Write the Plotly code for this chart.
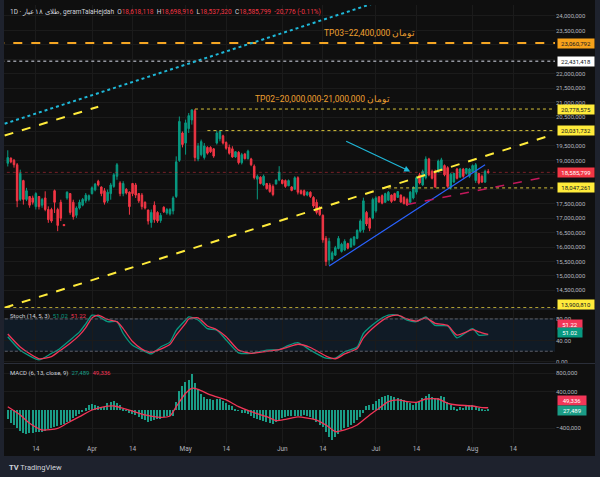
import numpy as np
import pandas as pd
import plotly.graph_objects as go
from plotly.subplots import make_subplots

first_day = "2024-03-05"

# daily candles, price in millions of toman (Mar 5 .. Aug 6)
open_m = [
    18.90, 19.08, 19.00, 18.85, 17.65, 18.30, 17.65, 17.75, 17.70, 17.40, 17.75, 17.45, 17.70, 17.30,
    17.30, 17.95, 17.30, 17.55, 16.78, 17.70, 17.85, 17.55, 17.10, 17.35, 17.45, 17.60, 17.65,
    17.85, 17.98, 18.28, 18.08, 17.95, 17.60, 17.85, 18.10, 18.45, 18.22, 17.85, 18.00, 17.90, 18.20,
    18.15, 17.85, 17.80, 17.55, 17.28, 16.85, 17.45, 17.20, 16.92, 17.38, 17.18, 17.15, 17.25, 17.75,
    19.00, 19.95,
    19.60, 20.10, 20.40, 20.72, 19.05, 19.20, 19.10, 19.45, 19.45, 19.40, 19.60, 19.75, 19.85, 19.62,
    19.45, 19.40, 19.12, 19.28, 18.92, 19.22, 19.06, 19.05, 18.80, 18.35, 18.42, 18.15, 18.20, 18.15,
    18.10, 18.18, 18.32,
    18.32, 18.30, 18.12, 18.08, 18.00, 18.40, 17.95, 17.95, 17.80, 17.90, 17.72, 17.55, 17.35, 17.10,
    16.30, 15.55, 15.58, 15.72, 15.95, 15.85, 15.90, 16.12, 16.00, 16.08, 16.30, 16.55, 16.60, 17.20,
    17.00, 17.00,
    17.25, 17.74, 17.78, 17.55, 17.62, 17.80, 17.85, 17.72, 17.80, 17.72, 17.65, 17.55, 17.70, 17.90,
    18.50, 18.15, 18.40, 19.05, 18.62, 18.60, 18.60, 18.65, 18.82, 18.75, 18.05, 18.25, 18.70, 18.42,
    18.70, 18.55, 18.45,
    18.60, 18.30, 18.55, 18.45, 18.25, 18.618118,
]
high_m = [
    19.35, 19.10, 19.05, 18.91, 18.68, 18.33, 18.05, 17.76, 17.78, 17.90, 17.76, 17.70, 17.93, 17.41,
    17.36, 17.99, 17.36, 17.64, 16.79, 17.93, 17.87, 17.64, 17.41, 17.64, 17.70, 17.87, 17.82,
    18.10, 18.22, 18.33, 18.10, 18.04, 17.99, 18.22, 18.56, 18.91, 18.28, 18.28, 18.04, 17.93, 18.22,
    18.22, 17.87, 17.87, 17.58, 17.30, 17.30, 17.58, 17.24, 17.18, 17.41, 17.35, 17.35, 17.76, 19.14,
    20.52, 20.00,
    20.41, 20.64, 20.76, 20.78, 19.60, 19.72, 19.60, 19.49, 19.49, 19.43, 20.03, 20.02, 19.89, 19.66,
    19.55, 19.49, 19.32, 19.32, 19.26, 19.26, 19.37, 19.09, 18.86, 18.51, 18.45, 18.51, 18.22, 18.22,
    18.17, 18.34, 18.80,
    18.34, 18.34, 18.34, 18.11, 18.45, 18.45, 17.99, 17.99, 17.93, 17.93, 17.76, 17.65, 17.42, 17.13,
    16.38, 16.32, 15.86, 16.04, 16.38, 16.15, 16.27, 16.15, 16.32, 16.38, 16.61, 16.96, 17.71, 17.25,
    17.02, 17.71,
    17.76, 17.76, 17.82, 17.88, 17.94, 17.82, 17.88, 17.94, 17.82, 17.76, 17.71, 17.94, 18.11, 18.45,
    18.57, 18.68, 19.14, 19.09, 18.68, 18.68, 19.03, 19.09, 18.86, 18.80, 18.57, 18.57, 18.74, 18.74,
    18.74, 18.74, 18.74,
    18.86, 18.91, 18.57, 18.51, 18.68, 18.698916,
]
low_m = [
    18.79, 18.90, 18.75, 17.38, 17.59, 17.47, 17.59, 17.36, 17.47, 17.30, 17.30, 17.36, 17.24, 16.84,
    16.84, 17.18, 16.55, 16.90, 16.73, 17.64, 17.12, 16.95, 17.01, 17.30, 17.41, 17.53, 17.58,
    17.82, 17.93, 18.10, 17.76, 17.47, 17.53, 17.64, 18.05, 18.33, 17.76, 17.76, 17.82, 17.12, 17.76,
    17.70, 17.53, 17.30, 17.30, 16.78, 16.67, 16.84, 16.84, 16.84, 17.18, 17.12, 17.09, 17.13, 17.70,
    18.95, 19.45,
    19.20, 19.95, 20.24, 18.97, 18.97, 19.14, 19.03, 19.20, 19.26, 19.09, 19.55, 19.66, 19.55, 19.37,
    19.20, 19.09, 19.09, 18.86, 18.86, 19.03, 19.03, 18.80, 18.34, 17.65, 18.17, 18.11, 17.99, 17.88,
    17.76, 18.17, 18.28,
    18.17, 18.05, 18.11, 17.93, 17.99, 17.82, 17.82, 17.76, 17.76, 17.70, 17.36, 17.13, 17.07, 16.15,
    15.35, 15.38, 15.52, 15.69, 15.92, 15.81, 15.86, 15.92, 15.98, 16.04, 16.27, 16.50, 16.50, 16.73,
    16.55, 16.96,
    17.19, 17.53, 17.48, 17.53, 17.59, 17.53, 17.59, 17.71, 17.53, 17.48, 17.42, 17.53, 17.65, 17.82,
    18.17, 18.11, 18.34, 18.45, 18.34, 18.05, 18.57, 18.63, 18.45, 18.05, 17.99, 18.22, 18.34, 18.40,
    18.40, 18.51, 18.40,
    18.57, 18.22, 18.17, 18.22, 18.22, 18.537320,
]
close_m = [
    19.10, 18.95, 18.85, 17.60, 18.55, 17.65, 17.95, 17.45, 17.55, 17.85, 17.40, 17.65, 17.30, 16.95,
    16.90, 17.55, 16.75, 17.00, 16.74, 17.90, 17.20, 17.05, 17.35, 17.55, 17.65, 17.80, 17.78,
    18.05, 18.18, 18.15, 17.85, 17.55, 17.90, 18.15, 18.50, 18.85, 17.85, 18.20, 17.87, 17.40, 17.85,
    17.80, 17.60, 17.40, 17.35, 16.90, 17.20, 16.95, 16.90, 17.10, 17.22, 17.30, 17.30, 17.70, 18.95,
    20.35, 19.55,
    20.30, 20.55, 20.75, 19.10, 19.50, 19.65, 19.50, 19.25, 19.30, 19.15, 19.95, 20.00, 19.60, 19.42,
    19.25, 19.12, 19.30, 18.92, 19.20, 19.06, 19.32, 18.85, 18.40, 18.45, 18.20, 18.45, 18.02, 17.92,
    17.82, 18.32, 18.60,
    18.20, 18.10, 18.30, 17.96, 18.40, 17.90, 17.85, 17.80, 17.90, 17.75, 17.42, 17.20, 17.12, 16.25,
    15.50, 16.20, 15.80, 15.98, 16.30, 16.10, 16.20, 15.96, 16.28, 16.35, 16.58, 16.90, 17.60, 16.80,
    16.65, 17.65,
    17.70, 17.56, 17.52, 17.85, 17.90, 17.58, 17.62, 17.92, 17.56, 17.50, 17.46, 17.90, 18.05, 18.40,
    18.22, 18.62, 19.05, 18.50, 18.38, 18.08, 18.98, 19.02, 18.50, 18.10, 18.52, 18.55, 18.38, 18.70,
    18.45, 18.72, 18.70,
    18.82, 18.85, 18.22, 18.25, 18.62, 18.585799,
]
last_ohlc = [18618118, 18698916, 18537320, 18585799]
last_change = "-20,776 (-0.11%)"

# stochastic (14, 5, 3)
stoch_dates = [
    "2024-03-05", "2024-03-09", "2024-03-15", "2024-03-19", "2024-03-21", "2024-03-25", "2024-03-28",
    "2024-03-30", "2024-04-01", "2024-04-03", "2024-04-06", "2024-04-09", "2024-04-11", "2024-04-14",
    "2024-04-17", "2024-04-20", "2024-04-23", "2024-04-26", "2024-04-28", "2024-05-01", "2024-05-02",
    "2024-05-05", "2024-05-08", "2024-05-11", "2024-05-14", "2024-05-18", "2024-05-22", "2024-05-27",
    "2024-05-31", "2024-06-03", "2024-06-06", "2024-06-10", "2024-06-15", "2024-06-18", "2024-06-21",
    "2024-06-25", "2024-06-27", "2024-07-01", "2024-07-05", "2024-07-08", "2024-07-11", "2024-07-14",
    "2024-07-17", "2024-07-20", "2024-07-24", "2024-07-27", "2024-08-01", "2024-08-03", "2024-08-06",
]
stoch_k = [47, 22, 4, 16, 22, 41, 56, 71, 87, 85, 75, 75, 53, 31, 22, 15, 28, 37, 59,
           78, 84, 78, 62, 59, 41, 17, 16, 22, 23, 31, 36, 22, 7, 7, 19, 28, 53,
           74, 87, 87, 78, 75, 84, 68, 67, 45, 62, 50, 51.02]
stoch_d = [52, 28, 6, 10, 18, 35, 50, 64, 82, 87, 79, 75, 62, 38, 24, 18, 24, 33, 50,
           72, 80, 82, 67, 60, 47, 22, 16, 20, 23, 28, 33, 27, 11, 6, 15, 25, 45,
           68, 84, 87, 80, 76, 82, 72, 68, 50, 60, 56, 51.22]
stoch_bands = [20, 80]

# MACD (6, 13, close, 9), thousands
macd_k = [
    -200, -280, -330, -400, -450, -500, -520, -510, -500, -470, -480, -470, -460, -420,
    -400, -380, -350, -330, -300, -270, -230, -180, -140, -90, -40, 40, 120,
    140, 110, 90, 60, 70, 150, 180, 200, 160, 120, 30, -20, -60, -80, -110, -150, -190, -220,
    -260, -250, -220, -200, -190, -150, -140, -130, -120, 180, 420, 520,
    620, 660, 780, 600, 450, 340, 290, 250, 230, 210, 230, 240, 190, 150, 100, 80, 30, -20,
    -60, -70, -90, -120, -170, -200, -210, -250, -270, -290, -300, -260, -230,
    -180, -150, -120, -130, -140, -130, -120, -110, -120, -150, -200, -260, -330, -380, -480,
    -600, -650, -600, -520, -440, -400, -370, -320, -280, -220, -150, -60, 80, 100, 140,
    200, 250, 280, 300, 320, 300, 280, 260, 250, 210, 180, 150, 120, 170, 200, 260, 300, 340,
    290, 270, 260, 300, 280, 180, 100, 60, 20, 60, 50, 90, 100,
    110, 80, 40, 30, -10, 27.489,
]
signal_dates = [
    "2024-03-05", "2024-03-09", "2024-03-12", "2024-03-16", "2024-03-21", "2024-03-24", "2024-03-28",
    "2024-04-01", "2024-04-04", "2024-04-08", "2024-04-11", "2024-04-14", "2024-04-18", "2024-04-23",
    "2024-04-26", "2024-04-28", "2024-05-01", "2024-05-03", "2024-05-05", "2024-05-09", "2024-05-14",
    "2024-05-18", "2024-05-22", "2024-05-27", "2024-05-30", "2024-06-02", "2024-06-06", "2024-06-12",
    "2024-06-15", "2024-06-18", "2024-06-21", "2024-06-25", "2024-06-29", "2024-07-02", "2024-07-05",
    "2024-07-08", "2024-07-11", "2024-07-14", "2024-07-17", "2024-07-21", "2024-07-24", "2024-07-27",
    "2024-08-01", "2024-08-04", "2024-08-06",
]
signal_k = [70, -110, -290, -437, -400, -290, -146, 0, 58, 87, 36, -22, -109, -160, -131, 72,
            365, 474, 452, 328, 219, 72, -37, -146, -233, -204, -150, -219, -328, -474, -437,
            -328, -109, 36, 182, 219, 182, 168, 240, 240, 146, 109, 87, 51, 49.336]

# drawn levels and trend lines
level_prices = [23060792, 22431418, 20778575, 20031732, 18047261, 13900810]
level_starts = ["2024-03-01", "2024-03-01", "2024-05-04", "2024-05-08", "2024-07-03", "2024-03-01"]
cyan_dates, cyan_prices = ["2024-03-04", "2024-06-30"], [20.27, 24.43]
yellow_dates, yellow_prices = ["2024-03-04", "2024-08-27"], [13.90, 19.90]
upper_dates, upper_prices = ["2024-03-04", "2024-04-03"], [19.86, 20.86]
blue_dates, blue_prices = ["2024-06-16", "2024-08-05"], [15.34, 18.85]
red_dates, red_prices = ["2024-07-11", "2024-08-25"], [17.47, 18.44]
arrow_dates, arrow_prices = ["2024-06-21", "2024-07-12"], [19.69, 18.62]
tp_texts = ["TP03=22,400,000 تومان", "TP02=20,000,000-21,000,000 تومان"]
tp_dates, tp_prices = ["2024-06-29", "2024-06-14"], [23.41, 21.10]

tick_dates = ["2024-03-14", "2024-04-01", "2024-04-14", "2024-05-01", "2024-05-14", "2024-06-01",
              "2024-06-14", "2024-07-01", "2024-07-14", "2024-08-01", "2024-08-14"]
tick_names = ["14", "Apr", "14", "May", "14", "Jun", "14", "Jul", "14", "Aug", "14"]
price_ticks = [14.5, 15.0, 15.5, 16.0, 16.5, 17.0, 17.5, 18.0, 18.5, 19.0, 19.5, 20.0, 20.5,
               21.0, 21.5, 22.0, 22.5, 23.0, 23.5, 24.0]
# ticks that TradingView hides behind the level boxes
hidden_ticks = [18.0, 18.5, 20.0, 22.5, 23.0]

UP, DOWN = "#089981", "#f23645"
BG, FRAME, GRID, TXT = "#0f0f0f", "#1e222d", "#1b1b1b", "#b2b5be"
FONT = "Roboto"
x_range = ["2024-03-03 19:00", "2024-08-27 10:00"]
far_left, far_right = "2024-02-01", "2024-09-30"

dates = pd.date_range(first_day, periods=len(close_m), freq="D")
M = 1e6

fig = make_subplots(rows=3, cols=1, shared_xaxes=True, vertical_spacing=0.01)

fig.add_trace(go.Candlestick(
    x=dates, open=np.array(open_m) * M, high=np.array(high_m) * M,
    low=np.array(low_m) * M, close=np.array(close_m) * M,
    increasing=dict(line=dict(color=UP, width=1), fillcolor=UP),
    decreasing=dict(line=dict(color=DOWN, width=1), fillcolor=DOWN),
    whiskerwidth=0, hoverinfo="skip"), row=1, col=1)

# last price line
fig.add_trace(go.Scatter(x=[far_left, far_right], y=[last_ohlc[3]] * 2, mode="lines",
                         line=dict(color="rgba(242,54,69,0.45)", width=1, dash="dot")), row=1, col=1)

level_styles = [
    dict(color="#f5a623", width=2, dash="dash"),
    dict(color="#9598a1", width=1.5, dash="dot"),
    dict(color="#d6c23a", width=1, dash="3px,3px"),
    dict(color="#d6c23a", width=1, dash="3px,3px"),
    dict(color="#d6c23a", width=1, dash="3px,3px"),
    dict(color="#d6c23a", width=1, dash="3px,3px"),
]
for p, start, st in zip(level_prices, level_starts, level_styles):
    fig.add_trace(go.Scatter(x=[start, far_right], y=[p, p], mode="lines", line=st), row=1, col=1)

trend = [
    (cyan_dates, cyan_prices, dict(color="#1fb8d8", width=2, dash="dot")),
    (yellow_dates, yellow_prices, dict(color="#ffeb3b", width=2, dash="dash")),
    (upper_dates, upper_prices, dict(color="#ffeb3b", width=2, dash="dash")),
    (blue_dates, blue_prices, dict(color="#2962ff", width=1.2)),
    (red_dates, red_prices, dict(color="#c2185b", width=1.5, dash="dash")),
]
for xs, ys, st in trend:
    fig.add_trace(go.Scatter(x=xs, y=np.array(ys) * M, mode="lines", line=st), row=1, col=1)

# stochastic pane
fig.add_shape(type="rect", xref="x2", yref="y2", x0=far_left, x1=far_right,
              y0=stoch_bands[0], y1=stoch_bands[1], fillcolor="#101b26", line_width=0, layer="below")
for b in stoch_bands:
    fig.add_shape(type="line", xref="x2", yref="y2", x0=far_left, x1=far_right, y0=b, y1=b,
                  line=dict(color="#5d606b", width=1, dash="3px,2px"))
fig.add_trace(go.Scatter(x=stoch_dates, y=stoch_k, mode="lines", line=dict(color="#089981", width=1.3,
                         shape="spline", smoothing=0.6)), row=2, col=1)
fig.add_trace(go.Scatter(x=stoch_dates, y=stoch_d, mode="lines", line=dict(color="#f23658", width=1.3,
                         shape="spline", smoothing=0.6)), row=2, col=1)

# MACD pane
fig.add_trace(go.Bar(x=dates, y=np.array(macd_k) * 1000, marker=dict(color="#1a9c86", line_width=0),
                     width=0.45 * 86400000), row=3, col=1)
fig.add_trace(go.Scatter(x=signal_dates, y=np.array(signal_k) * 1000, mode="lines",
                         line=dict(color="#f23658", width=1.3, shape="spline", smoothing=0.6)), row=3, col=1)

ann = []
# price scale boxes
box_colors = ["#f7a21b", "#ffffff", "#ffeb3b", "#ffeb3b", "#ffeb3b", "#ffeb3b"]
box_shift = [0, 0, 0, 0, 0, 3]
for p, c, s in zip(level_prices, box_colors, box_shift):
    ann.append(dict(xref="paper", yref="y", x=1, y=p, xanchor="left", xshift=2, yshift=s,
                    text=f"{p:,}", showarrow=False, bgcolor=c, width=34, borderpad=1,
                    font=dict(family=FONT, size=6, color="#131722")))
ann.append(dict(xref="paper", yref="y", x=1, y=last_ohlc[3], xanchor="left", xshift=2,
                text=f"{last_ohlc[3]:,}", showarrow=False, bgcolor=DOWN, width=34, borderpad=1,
                font=dict(family=FONT, size=6, color="#ffffff")))
for v, c, s in [(stoch_d[-1], "#f23658", 10), (stoch_k[-1], "#089981", 2)]:
    ann.append(dict(xref="paper", yref="y2", x=1, y=v, xanchor="left", xshift=2, yshift=s,
                    text=f"{v:.2f}", showarrow=False, bgcolor=c, width=22, borderpad=1,
                    font=dict(family=FONT, size=6, color="#ffffff")))
for v, c, s in [(signal_k[-1], "#f23658", 7), (macd_k[-1], "#1a9c86", -2)]:
    ann.append(dict(xref="paper", yref="y3", x=1, y=v * 1000, xanchor="left", xshift=2, yshift=s,
                    text=f"{v * 1000:,.0f}", showarrow=False, bgcolor=c, width=26, borderpad=1,
                    font=dict(family=FONT, size=6, color="#ffffff")))

# TP labels and arrow
for t, d, p in zip(tp_texts, tp_dates, tp_prices):
    ann.append(dict(xref="x", yref="y", x=d, y=p * M, text=t, showarrow=False,
                    font=dict(family=FONT, size=8.5, color="#f0a030")))
ann.append(dict(xref="x", yref="y", axref="x", ayref="y", x=arrow_dates[1], y=arrow_prices[1] * M,
                ax=arrow_dates[0], ay=arrow_prices[0] * M, text="", showarrow=True,
                arrowhead=2, arrowsize=1, arrowwidth=1.2, arrowcolor="#1fb8d8"))

red = "<span style='color:#f23645'>"
legend = ("1D · طلای ۱۸ عیار, geramTalaHejdah  "
          f"O{red}{last_ohlc[0]:,}</span>  H{red}{last_ohlc[1]:,}</span>  "
          f"L{red}{last_ohlc[2]:,}</span>  C{red}{last_ohlc[3]:,}</span>  {red}{last_change}</span>")
ann.append(dict(xref="paper", yref="paper", x=0.007, y=0.984, xanchor="left", yanchor="middle",
                text=legend, showarrow=False, font=dict(family=FONT, size=6.5, color="#d1d4dc")))
ann.append(dict(xref="paper", yref="paper", x=0.007, y=0.29, xanchor="left", yanchor="middle",
                text=f"Stoch (14, 5, 3)  <span style='color:#089981'>{stoch_k[-1]:.2f}</span>  "
                     f"<span style='color:#f23658'>{stoch_d[-1]:.2f}</span>",
                showarrow=False, font=dict(family=FONT, size=6, color="#d1d4dc")))
ann.append(dict(xref="paper", yref="paper", x=0.007, y=0.16, xanchor="left", yanchor="middle",
                text=f"MACD (6, 13, close, 9)  <span style='color:#1a9c86'>{macd_k[-1] * 1000:,.0f}</span>  "
                     f"<span style='color:#f23658'>{signal_k[-1] * 1000:,.0f}</span>",
                showarrow=False, font=dict(family=FONT, size=6, color="#d1d4dc")))
ann.append(dict(xref="paper", yref="paper", x=0.005, y=-0.057, xanchor="left", yanchor="middle",
                text="<b>TV</b> TradingView", showarrow=False,
                font=dict(family=FONT, size=7.5, color="#d1d4dc")))

# frame, separators
frame = [
    dict(type="rect", xref="paper", yref="paper", x0=-0.02, x1=1.1, y0=-0.1, y1=-0.0297,
         fillcolor=FRAME, line_width=0),
    dict(type="rect", xref="paper", yref="paper", x0=1.0726, x1=1.1, y0=-0.1, y1=1.02,
         fillcolor=FRAME, line_width=0),
    dict(type="rect", xref="paper", yref="paper", x0=-0.02, x1=0, y0=-0.1, y1=1.02,
         fillcolor=FRAME, line_width=0),
    dict(type="line", xref="paper", yref="paper", x0=0, x1=1.0726, y0=0.306, y1=0.306,
         line=dict(color="#2a2e39", width=1)),
    dict(type="line", xref="paper", yref="paper", x0=0, x1=1.0726, y0=0.1815, y1=0.1815,
         line=dict(color="#2a2e39", width=1)),
]
for s in frame:
    fig.add_shape(**s)

fig.update_layout(
    width=600, height=477, margin=dict(l=4, r=45, t=5, b=34),
    paper_bgcolor=BG, plot_bgcolor=BG, showlegend=False, annotations=list(fig.layout.annotations) + ann,
    font=dict(family=FONT, size=6, color=TXT), bargap=0, hovermode=False,
)
for i in (1, 2, 3):
    fig.update_xaxes(row=i, col=1, type="date", range=x_range, tickvals=tick_dates, ticktext=tick_names,
                     showgrid=True, gridcolor=GRID, zeroline=False, showline=False,
                     showticklabels=(i == 3), tickfont=dict(size=6.5, color=TXT),
                     rangeslider=dict(visible=False))
price_text = ["" if t in hidden_ticks else f"{t * M:,.0f}" for t in price_ticks]
fig.update_yaxes(row=1, col=1, side="right", domain=[0.3082, 1], range=[13.89e6, 24.38e6],
                 tickvals=np.array(price_ticks) * M, ticktext=price_text, gridcolor=GRID, zeroline=False)
fig.update_yaxes(row=2, col=1, side="right", domain=[0.1826, 0.3037], range=[-1.9, 96.7],
                 tickvals=[0, 40, 80], tickformat=".2f", gridcolor=GRID, zeroline=False)
fig.update_yaxes(row=3, col=1, side="right", domain=[0, 0.1804], range=[-721000, 1005000],
                 tickvals=[-400000, 400000, 800000], tickformat=",d", gridcolor=GRID, zeroline=False)

# the page's default body margin would shift the chart by 8px
fig.write_html("out.html", config={"displayModeBar": False},
               post_script="document.body.style.margin='0';"
                           "document.body.style.background='#0f0f0f';")
